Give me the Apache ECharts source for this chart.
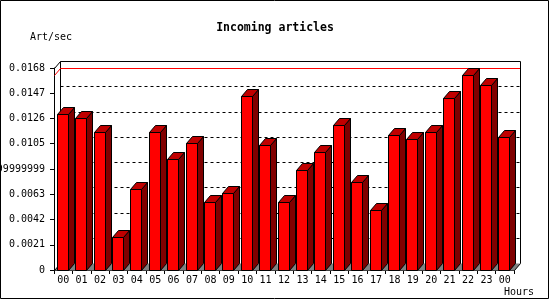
<!DOCTYPE html>
<html>
<head>
<meta charset="utf-8">
<script src="https://cdn.jsdelivr.net/npm/echarts@6/dist/echarts.min.js"></script>
<style>html,body{margin:0;padding:0;background:#fff}#c{width:550px;height:300px}</style>
</head>
<body>
<div id="c"></div>
<script>
const hours = ["00","01","02","03","04","05","06","07","08","09","10","11","12","13","14","15","16","17","18","19","20","21","22","23","00"];
const artPerSec = [0.01295,0.01264,0.01145,0.00277,0.00671,0.01145,0.00920,0.01059,0.00563,0.00643,0.0145,0.01037,0.00563,0.00834,0.00979,0.01203,0.00729,0.00502,0.0112,0.01087,0.01145,0.01428,0.01619,0.01536,0.01104];
const yTickLabels = ["0","0.0021","0.0042","0.0063","0.008399999999","0.0105","0.0126","0.0147","0.0168"];
const yStep = 0.0021;
const yMax = 0.0168;

const FONT = 'DejaVu Sans Mono';
const DX = 6, DY = 7;
const maxVal = Math.max.apply(null, artPerSec);
const px = v => Math.round(v) + 0.5;

const chart = echarts.init(document.getElementById('c'), null, {renderer: 'canvas'});

function renderBack(params, api) {
  const cs = params.coordSys;
  const x0 = px(cs.x), x1 = px(cs.x + cs.width);
  const yt = px(cs.y), yb = px(cs.y + cs.height);
  const children = [];
  children.push({type: 'polygon', shape: {points: [[x0, yb], [x1, yb], [x1 + DX, yb - DY], [x0 + DX, yb - DY]]},
    style: {fill: '#808080', stroke: null}});
  const line = (a, b, c, d, color, dash) => children.push({type: 'line', shape: {x1: a, y1: b, x2: c, y2: d},
    style: {stroke: color || '#000', lineWidth: 1, lineDash: dash || null}});
  for (let i = 1; i < yTickLabels.length - 1; i++) {
    const y = px(api.coord([0, i * yStep])[1]) - DY;
    line(x0 + DX, y, x1 + DX, y, '#000', [3, 3]);
  }
  line(x0 + DX, yt - DY, x1 + DX, yt - DY);
  line(x0 + DX, yt - DY, x0 + DX, yb - DY);
  line(x1 + DX, yt - DY, x1 + DX, yb - DY);
  line(x0, yt, x0 + DX, yt - DY);
  line(x0, yb, x0 + DX, yb - DY);
  line(x1, yb, x1 + DX, yb - DY);
  const ym = px(api.coord([0, maxVal])[1]);
  line(x0 + DX, ym - DY, x1 + DX - 0.5, ym - DY, '#ff0000');
  line(x0, ym, x0 + DX, ym - DY, '#ff0000');
  return {type: 'group', children: children};
}

function renderBar(params, api) {
  const idx = api.value(0), val = api.value(1);
  const c = api.coord([idx, val]);
  const base = api.coord([idx, 0]);
  const bw = api.size([1, 0])[0];
  const L = px(c[0] - bw / 2 + bw * 0.15);
  const R = px(c[0] - bw / 2 + bw * 0.75);
  const T = px(c[1]);
  const B = px(base[1]);
  const st = {stroke: '#000', lineWidth: 1};
  return {type: 'group', children: [
    {type: 'polygon', shape: {points: [[R, T], [R + DX, T - DY], [R + DX, B - DY], [R, B]]},
      style: Object.assign({fill: '#800000'}, st)},
    {type: 'polygon', shape: {points: [[L, T], [L + DX, T - DY], [R + DX, T - DY], [R, T]]},
      style: Object.assign({fill: '#c00000'}, st)},
    {type: 'rect', shape: {x: L, y: T, width: R - L, height: B - T},
      style: Object.assign({fill: '#ff0000'}, st)}
  ]};
}

chart.setOption({
  animation: false,
  backgroundColor: '#fff',
  title: {
    text: 'Incoming articles', left: 'center', top: 17,
    textStyle: {fontFamily: FONT, fontWeight: 'bold', fontSize: 11.5, color: '#000'}
  },
  grid: {left: 54, top: 68, right: 36, bottom: 30, containLabel: false, outerBoundsMode: 'none'},
  xAxis: {
    type: 'category', data: hours, boundaryGap: true,
    axisLine: {lineStyle: {color: '#000', width: 1}},
    axisTick: {show: true, length: 4, lineStyle: {color: '#000'}},
    axisLabel: {interval: 0, margin: 5, fontFamily: FONT, fontSize: 10, color: '#000'},
    splitLine: {show: false}
  },
  yAxis: {
    type: 'value', min: 0, max: yMax, interval: yStep,
    axisLine: {show: true, lineStyle: {color: '#000', width: 1}},
    axisTick: {show: true, length: 4, lineStyle: {color: '#000'}},
    axisLabel: {
      margin: 9, fontFamily: FONT, fontSize: 10, color: '#000',
      formatter: v => yTickLabels[Math.round(v / yStep)] || ''
    },
    splitLine: {show: false}
  },
  graphic: [
    {type: 'rect', shape: {x: 0.5, y: 0.5, width: 548, height: 298}, style: {fill: null, stroke: '#000', lineWidth: 1}, z: 100},
    {type: 'text', x: 30, y: 37, style: {text: 'Art/sec', font: '10px "' + FONT + '"', fill: '#000', verticalAlign: 'middle'}},
    {type: 'text', x: 504, y: 292, style: {text: 'Hours', font: '10px "' + FONT + '"', fill: '#000', verticalAlign: 'middle'}}
  ],
  series: [
    {type: 'custom', z: 1, data: [[0, 0]], renderItem: renderBack, silent: true},
    {type: 'custom', z: 2, data: artPerSec.map((v, i) => [i, v]), renderItem: renderBar, silent: true}
  ]
});
</script>
</body>
</html>
